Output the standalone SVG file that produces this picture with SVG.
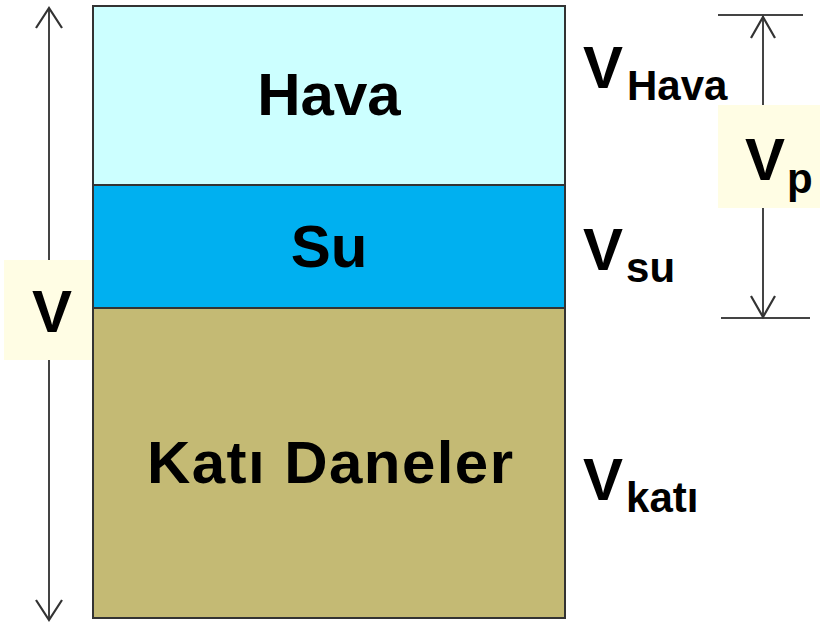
<svg xmlns="http://www.w3.org/2000/svg" width="820" height="627" viewBox="0 0 820 627">
<defs>
<style>
.t{font-family:"Liberation Sans",Arial,sans-serif;font-weight:bold;fill:#000}
.big{font-size:60px}
.sub{font-size:42px}
.ln{stroke:#444;stroke-width:2;fill:none}
.head{stroke:#333;stroke-width:2.2;fill:none;stroke-linejoin:miter}
.layer{stroke:#333;stroke-width:2}
.lbl{fill:#FFFDE4}
</style>
</defs>
<rect width="820" height="627" fill="#fff"/>
<g id="hava">
<rect class="layer" x="93" y="6" width="472" height="179" fill="#CCFFFF"/>
<text class="t big" x="329" y="115" text-anchor="middle">Hava</text>
</g>
<g id="su">
<rect class="layer" x="93" y="185" width="472" height="123" fill="#00B0F0"/>
<text class="t big" x="329" y="267" text-anchor="middle">Su</text>
</g>
<g id="kati">
<rect class="layer" x="93" y="308" width="472" height="310" fill="#C4BA74"/>
<text class="t big" x="147" y="483" textLength="366" lengthAdjust="spacing">Katı Daneler</text>
</g>
<g id="connectors">
<line class="ln" x1="49" y1="8" x2="49" y2="620"/>
<polyline class="head" points="36,28 49,8 62,28"/>
<polyline class="head" points="36,600 49,620 62,600"/>
<line class="ln" x1="718" y1="15" x2="803" y2="15"/>
<line class="ln" x1="721" y1="318" x2="810" y2="318"/>
<line class="ln" x1="763" y1="16" x2="763" y2="317"/>
<polyline class="head" points="751,38 763,17 775,38"/>
<polyline class="head" points="751,296 763,317 775,296"/>
</g>
<g id="label-v">
<rect class="lbl" x="4" y="260" width="88" height="100"/>
<text class="t big" x="52" y="332" text-anchor="middle">V</text>
</g>
<g id="label-vp">
<rect class="lbl" x="718" y="105" width="102" height="103"/>
<text class="t" x="745" y="180"><tspan class="big">V</tspan><tspan class="sub" dx="2" dy="13">p</tspan></text>
</g>
<g id="label-vhava">
<text class="t" x="583" y="88"><tspan class="big">V</tspan><tspan class="sub" dx="4" dy="12">Hava</tspan></text>
</g>
<g id="label-vsu">
<text class="t" x="583" y="270"><tspan class="big">V</tspan><tspan class="sub" dx="3" dy="12">su</tspan></text>
</g>
<g id="label-vkati">
<text class="t" x="583" y="500"><tspan class="big">V</tspan><tspan class="sub" dx="3" dy="12">katı</tspan></text>
</g>
</svg>
